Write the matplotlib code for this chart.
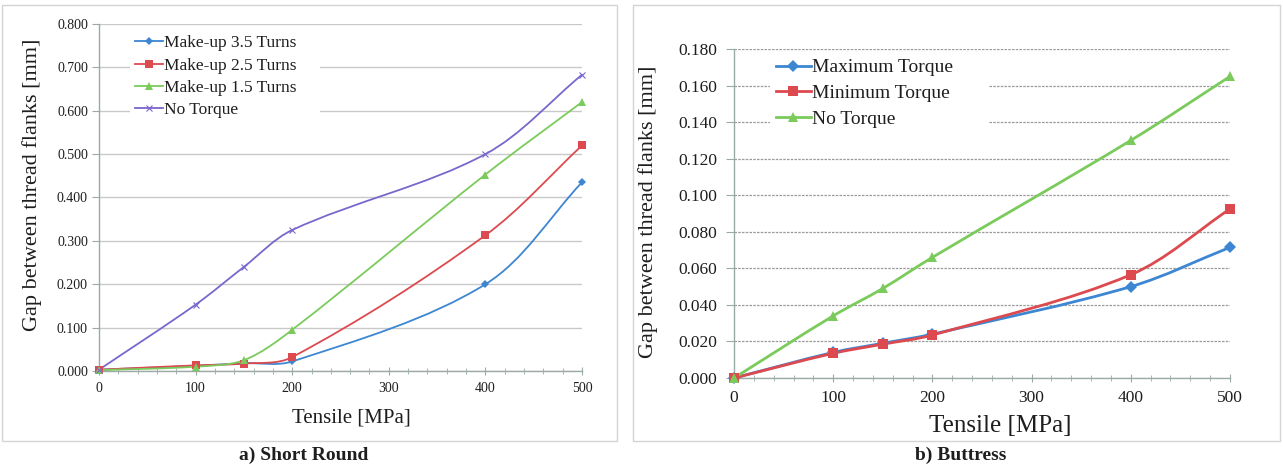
"""Thread flank gap vs tensile load: short round (a) and buttress (b) connections."""

import matplotlib.pyplot as plt
import numpy as np
from matplotlib.lines import Line2D
from matplotlib.patches import PathPatch, Rectangle
from matplotlib.path import Path
from matplotlib.ticker import FormatStrFormatter, MultipleLocator

plt.rcParams["font.family"] = ["Liberation Serif", "DejaVu Serif"]

# -- Data ----------------------------------------------------------------------
tensile = [0, 100, 150, 200, 400, 500]

short_labels = ["Make-up 3.5 Turns", "Make-up 2.5 Turns",
                "Make-up 1.5 Turns", "No Torque"]
short_35 = [0.003, 0.012, 0.018, 0.022, 0.200, 0.435]
short_25 = [0.003, 0.013, 0.017, 0.032, 0.313, 0.520]
short_15 = [0.002, 0.010, 0.025, 0.095, 0.453, 0.620]
short_none = [0.003, 0.153, 0.240, 0.325, 0.500, 0.683]

butt_labels = ["Maximum Torque", "Minimum Torque", "No Torque"]
butt_max = [0.000, 0.0140, 0.0190, 0.0240, 0.0500, 0.0715]
butt_min = [0.000, 0.0135, 0.0185, 0.0235, 0.0565, 0.0925]
butt_none = [0.000, 0.0340, 0.0490, 0.0660, 0.1300, 0.1650]

# -- Style ---------------------------------------------------------------------
BLUE, RED, GREEN, PURPLE = "#3d86d2", "#dc4a4f", "#7acb5b", "#7a66cc"
AXIS_COL = "#9aaba6"
TEXT_COL = "#1e1e1e"
W, H = 1283, 465


def fx(px):
    return px / W


def fy(py):
    return 1 - py / H


def _smooth_path(ax, x, y):
    """Excel-style smoothed line: cubic Bezier through every point.

    Control arms follow the neighbour chord, scaled by on-screen segment
    lengths so short segments next to long ones do not overshoot.
    """
    data = np.column_stack([x, y]).astype(float)
    scr = ax.transData.transform(data)
    n = len(data)
    seg = np.hypot(*np.diff(scr, axis=0).T)
    verts, codes = [data[0]], [Path.MOVETO]
    for i in range(n - 1):
        p0, p1 = data[max(i - 1, 0)], data[i]
        p2, p3 = data[i + 1], data[min(i + 2, n - 1)]
        d_prev = seg[i - 1] if i > 0 else seg[i]
        d_next = seg[i + 1] if i < n - 2 else seg[i]
        c1 = p1 + (p2 - p0) * seg[i] / (d_prev + seg[i]) / 3
        c2 = p2 - (p3 - p1) * seg[i] / (seg[i] + d_next) / 3
        if i == 0:
            c1 = p1 + (p2 - p1) / 3
        if i == n - 2:
            c2 = p2 - (p2 - p1) / 3
        verts += [c1, c2, p2]
        codes += [Path.CURVE4] * 3
    return Path(verts, codes)


def _series(ax, y, color, lw, marker, ms, mew=0.0):
    ax.add_patch(PathPatch(_smooth_path(ax, tensile, y), facecolor="none",
                           edgecolor=color, lw=lw, capstyle="round",
                           joinstyle="round", clip_on=False, zorder=3))
    ax.plot(tensile, y, ls="none", marker=marker, ms=ms, color=color,
            mec=color, mew=mew, clip_on=False, zorder=4)
    return Line2D([], [], color=color, lw=lw, marker=marker, ms=ms,
                  mec=color, mew=mew)


def _style_axes(ax, tick_size, ylen, ypad, xpad):
    for side in ("top", "right"):
        ax.spines[side].set_visible(False)
    for side in ("left", "bottom"):
        ax.spines[side].set_color(AXIS_COL)
        ax.spines[side].set_linewidth(1.0)
    ax.set_xlim(0, 500)
    ax.xaxis.set_major_locator(MultipleLocator(100))
    ax.xaxis.set_minor_locator(MultipleLocator(20))
    ax.yaxis.set_major_formatter(FormatStrFormatter("%.3f"))
    ax.tick_params(axis="x", which="major", direction="inout", length=6,
                   color=AXIS_COL, labelsize=tick_size, labelcolor=TEXT_COL,
                   pad=xpad)
    ax.tick_params(axis="x", which="minor", direction="inout", length=4,
                   color=AXIS_COL)
    ax.tick_params(axis="y", direction="out", length=ylen, color=AXIS_COL,
                   labelsize=tick_size, labelcolor=TEXT_COL, pad=ypad)
    ax.set_axisbelow(True)


fig = plt.figure(figsize=(W / 100, H / 100), dpi=100)

# panel frames
for x0, x1 in ((2, 617), (633, 1280)):
    fig.patches.append(Rectangle((fx(x0), fy(441)), fx(x1 - x0), (441 - 5) / H,
                                 transform=fig.transFigure, facecolor="none",
                                 edgecolor="#d4d4d4", lw=1.0))

# -- a) Short Round ------------------------------------------------------------
ax1 = fig.add_axes([fx(99), fy(371), fx(582 - 99), (371 - 24) / H])
_style_axes(ax1, 10, 5, 3, 5)
ax1.set_ylim(0, 0.8)
ax1.yaxis.set_major_locator(MultipleLocator(0.1))
ax1.grid(axis="y", color="#c9c9c9", lw=1.0)

h1 = [
    _series(ax1, short_35, BLUE, 1.3, "D", 3.8),
    _series(ax1, short_25, RED, 1.3, "s", 5.5),
    _series(ax1, short_15, GREEN, 1.3, "^", 5.5),
    _series(ax1, short_none, PURPLE, 1.3, "x", 4.5, mew=0.8),
]
ax1.legend(h1, short_labels, loc="upper left", mode="expand",
           bbox_to_anchor=(fx(130), fy(140), fx(320 - 130), (140 - 30) / H),
           bbox_transform=fig.transFigure, frameon=True, fancybox=False,
           edgecolor="none", facecolor="white", framealpha=1, borderpad=0.3,
           borderaxespad=0, handlelength=1.6, handletextpad=0.05,
           labelspacing=0.35, fontsize=12.5, labelcolor=TEXT_COL)

ax1.set_ylabel("Gap between thread flanks [mm]", fontsize=16, va="center",
               color=TEXT_COL)
ax1.yaxis.set_label_coords(fx(32), fy(185), transform=fig.transFigure)
ax1.set_xlabel("Tensile [MPa]", fontsize=15, va="center", color=TEXT_COL)
ax1.xaxis.set_label_coords(fx(351), fy(418), transform=fig.transFigure)
fig.text(fx(304), fy(455), "a) Short Round", ha="center", va="center",
         fontsize=14, fontweight="bold", color=TEXT_COL)

# -- b) Buttress ---------------------------------------------------------------
ax2 = fig.add_axes([fx(734), fy(378), fx(1230 - 734), (378 - 49) / H])
_style_axes(ax2, 12.5, 6, 6, 6)
ax2.set_ylim(0, 0.18)
ax2.yaxis.set_major_locator(MultipleLocator(0.02))
ax2.grid(axis="y", color="#9a9a9a", lw=0.9, linestyle=(0, (2, 1)))

h2 = [
    _series(ax2, butt_max, BLUE, 2.0, "D", 6.5),
    _series(ax2, butt_min, RED, 2.0, "s", 7.5),
    _series(ax2, butt_none, GREEN, 2.0, "^", 7.5),
]
ax2.legend(h2, butt_labels, loc="upper left", mode="expand",
           bbox_to_anchor=(fx(770), fy(152), fx(989 - 770), (152 - 53) / H),
           bbox_transform=fig.transFigure, frameon=True, fancybox=False,
           edgecolor="none", facecolor="white", framealpha=1, borderpad=0.3,
           borderaxespad=0, handlelength=1.8, handletextpad=0.05,
           labelspacing=0.42, fontsize=14, labelcolor=TEXT_COL)

ax2.set_ylabel("Gap between thread flanks [mm]", fontsize=16, va="center",
               color=TEXT_COL)
ax2.yaxis.set_label_coords(fx(648), fy(212), transform=fig.transFigure)
ax2.set_xlabel("Tensile [MPa]", fontsize=18, va="center", color=TEXT_COL)
ax2.xaxis.set_label_coords(fx(1000), fy(426), transform=fig.transFigure)
fig.text(fx(961), fy(455), "b) Buttress", ha="center", va="center",
         fontsize=14, fontweight="bold", color=TEXT_COL)

fig.savefig("out.png", dpi=100)
